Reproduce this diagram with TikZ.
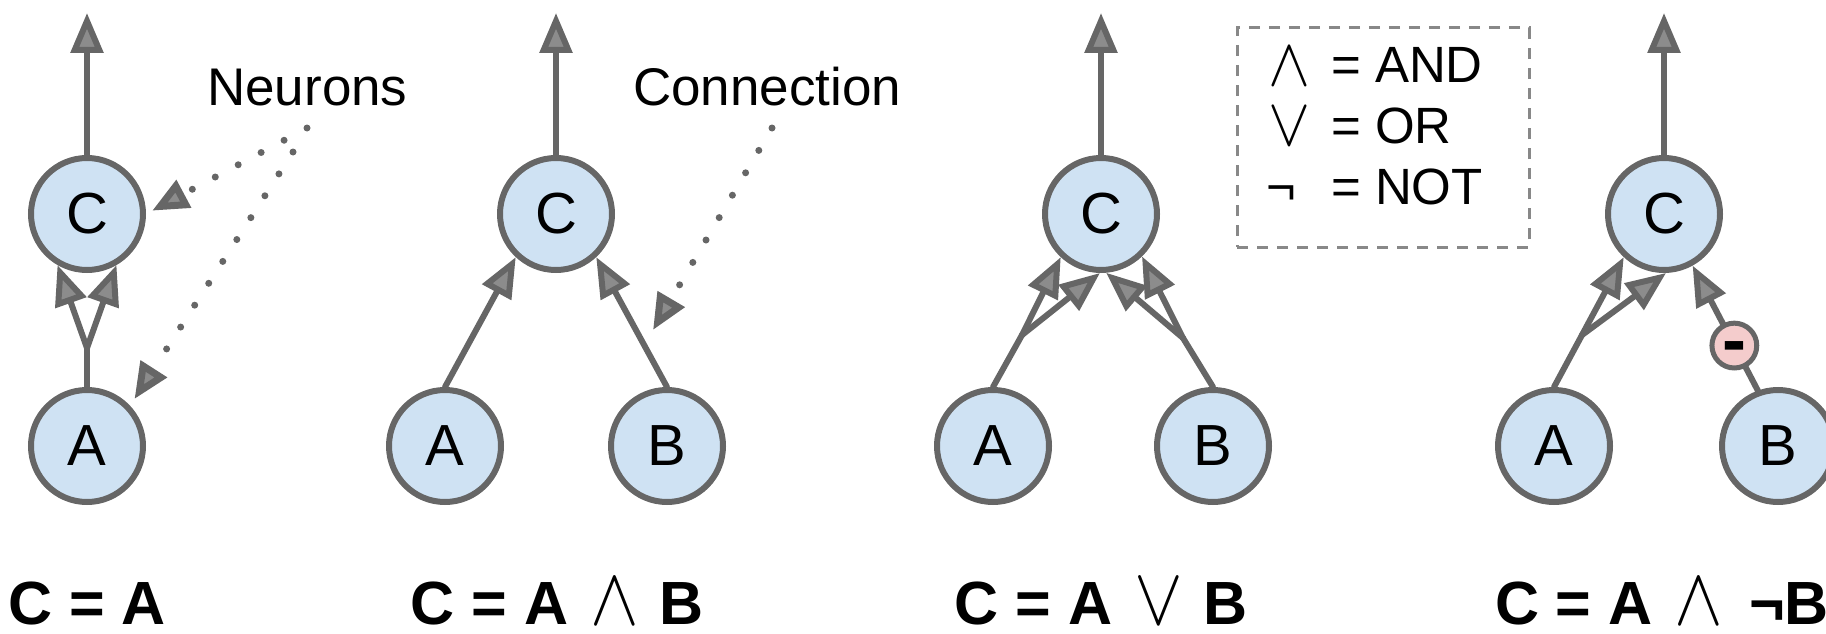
\documentclass[tikz,border=0pt]{standalone}
\usepackage{graphicx}
\usepackage{fontspec}
\setmainfont{Liberation Sans}
\usetikzlibrary{arrows.meta}
\definecolor{linegray}{HTML}{666666}
\definecolor{tipfill}{HTML}{8C8C8C}
\definecolor{nodeblue}{HTML}{CFE2F3}
\definecolor{nodepink}{HTML}{F4CCCC}
\definecolor{boxgray}{HTML}{888888}
\newcommand{\symscale}[3]{\scalebox{#1}[#2]{\fontsize{10}{12}\selectfont$#3$}}
\begin{document}
\begin{tikzpicture}[x=1pt,y=-1pt,
  neuron/.style={circle, draw=linegray, line width=6pt, fill=nodeblue, minimum size=112pt, inner sep=0pt, font=\fontsize{58}{60}\selectfont},
  conn/.style={draw=linegray, line width=6pt, line cap=round, -{Triangle[length=40pt,width=32pt,fill=tipfill]}},
  plainline/.style={draw=linegray, line width=6pt, line cap=round},
  pointer/.style={draw=linegray, line width=7pt, line cap=round, dash pattern=on 0pt off 26pt, -{Triangle[length=36pt,width=30pt,fill=tipfill]}},
  lab/.style={inner sep=0pt, font=\fontsize{53}{56}\selectfont, text=black},
  ltext/.style={inner sep=0pt, font=\fontsize{51}{54}\selectfont, text=black},
  formula/.style={inner sep=0pt, font=\fontsize{61}{64}\selectfont\bfseries, text=black, anchor=base},
  legendbox/.style={draw=boxgray, line width=3pt, dash pattern=on 11pt off 9pt},
  minusnode/.style={circle, draw=linegray, line width=5pt, fill=nodepink, minimum size=44pt, inner sep=0pt, font=\fontsize{72}{72}\selectfont\bfseries, text height=38pt, text depth=0pt}
]
\useasboundingbox (0,0) rectangle (1826,634);

% ---------- panel 1 ----------
\node[neuron] (C1) at (87,214) {C};
\node[neuron] (A1) at (87,446) {A};
\coordinate (o1) at (87,13);
\coordinate (s1) at (87,348);
\draw[conn] (C1) -- (o1);
\draw[plainline] (A1.north) -- (s1);
\draw[conn] (s1) -- (C1.-120);
\draw[conn] (s1) -- (C1.-60);
\node[lab, anchor=base west] (neur) at (207,106) {Neurons};
\coordinate (n1) at (307,128);
\coordinate (n2) at (293,152);
\draw[pointer, shorten >=7pt] (n1) -- (C1.east);
\draw[pointer, shorten >=8pt] (n2) -- (A1.43);
\node[formula] (f1) at (87,624) {C = A};

% ---------- panel 2 ----------
\node[neuron] (C2) at (556,214) {C};
\node[neuron] (A2) at (445,446) {A};
\node[neuron] (B2) at (667,446) {B};
\coordinate (o2) at (556,13);
\draw[conn] (C2) -- (o2);
\draw[conn] (A2.north) -- (C2.-133);
\draw[conn] (B2.north) -- (C2.-47);
\node[lab, anchor=base west] (connl) at (633,106) {Connection};
\coordinate (c1) at (772,128);
\coordinate (c2) at (653,330);
\draw[pointer] (c1) -- (c2);
\node[formula] (f2) at (557,624) {C = A\hspace{22pt}\symscale{7.3}{8.2}{\wedge}\hspace{20pt}B};

% ---------- panel 3 ----------
\node[neuron] (C3) at (1101,214) {C};
\node[neuron] (A3) at (993,446) {A};
\node[neuron] (B3) at (1213,446) {B};
\coordinate (o3) at (1101,13);
\coordinate (s3a) at (1022,335);
\coordinate (s3b) at (1183,338);
\draw[conn] (C3) -- (o3);
\draw[plainline] (A3.north) -- (s3a);
\draw[conn] (s3a) -- (C3.-133);
\draw[conn] (s3a) -- (C3.-91);
\draw[plainline] (B3.north) -- (s3b);
\draw[conn] (s3b) -- (C3.-46);
\draw[conn] (s3b) -- (C3.-85);
\node[formula] (f3) at (1101,624) {C = A\hspace{22pt}\symscale{7.3}{8.2}{\vee}\hspace{20pt}B};

% ---------- legend ----------
\node[legendbox, minimum width=292pt, minimum height=219pt, inner sep=0pt] (lg) at (1383,137.5) {};
\node[ltext, anchor=base] (w1) at (1289,85) {\symscale{6.3}{6.8}{\wedge}};
\node[ltext, anchor=base west] (l1) at (1331,83) {= AND};
\node[ltext, anchor=base] (w2) at (1289,145) {\symscale{6.3}{6.8}{\vee}};
\node[ltext, anchor=base west] (l2) at (1331,143) {= OR};
\node[ltext, anchor=base] (w3) at (1281,204) {¬};
\node[ltext, anchor=base west] (l3) at (1331,204) {= NOT};

% ---------- panel 4 ----------
\node[neuron] (C4) at (1664,214) {C};
\node[neuron] (A4) at (1554,446) {A};
\node[neuron] (B4) at (1778,446) {B};
\coordinate (o4) at (1664,13);
\coordinate (s4) at (1582,335);
\draw[conn] (C4) -- (o4);
\draw[plainline] (A4.north) -- (s4);
\draw[conn] (s4) -- (C4.-133);
\draw[conn] (s4) -- (C4.-88);
\draw[conn] (B4.110) -- node[minusnode, pos=0.36] (m4) {-} (C4.-61);
\node[formula] (f4) at (1662,624) {C = A\hspace{22pt}\symscale{7.3}{8.2}{\wedge}\hspace{26pt}¬B};
\end{tikzpicture}
\end{document}
